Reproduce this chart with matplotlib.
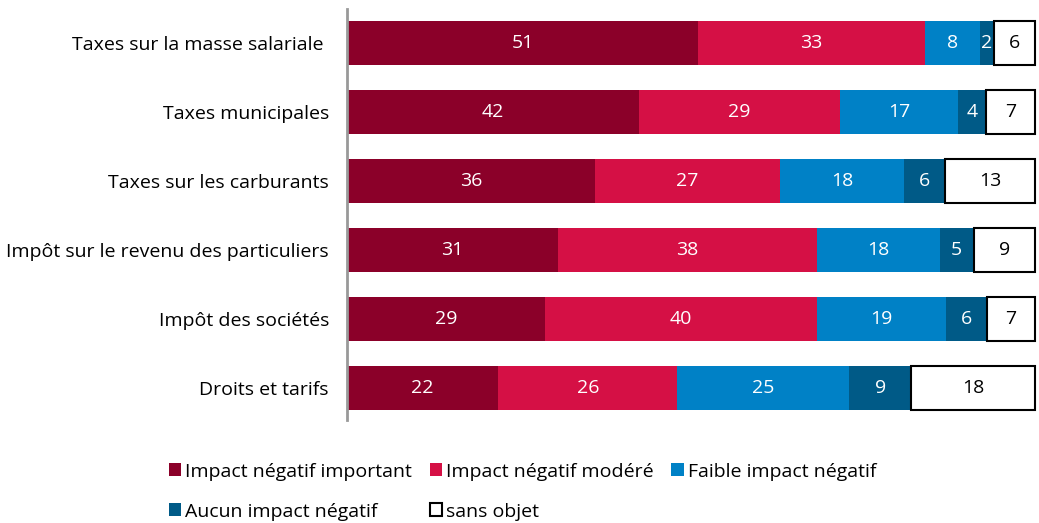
import numpy as np
import matplotlib
matplotlib.use("Agg")
import matplotlib.pyplot as plt
from matplotlib.patches import Patch

plt.rcParams.update({
    "font.family": ["Open Sans", "DejaVu Sans"],
    "font.size": 14,
})

categories = [
    "Taxes sur la masse salariale ",
    "Taxes municipales",
    "Taxes sur les carburants",
    "Impôt sur le revenu des particuliers",
    "Impôt des sociétés",
    "Droits et tarifs",
]
series_names = [
    "Impact négatif important",
    "Impact négatif modéré",
    "Faible impact négatif",
    "Aucun impact négatif",
    "sans objet",
]
important = [51, 42, 36, 31, 29, 22]
modere = [33, 29, 27, 38, 40, 26]
faible = [8, 17, 18, 18, 19, 25]
aucun = [2, 4, 6, 5, 6, 9]
sans_objet = [6, 7, 13, 9, 7, 18]

COLORS = ["#8B0029", "#D51045", "#0081C6", "#005A87", "#FFFFFF"]
EDGES = ["none", "none", "none", "none", "black"]
TEXT_COLORS = ["white", "white", "white", "white", "black"]

data = np.array([important, modere, faible, aucun, sans_objet], dtype=float)
totals = data.sum(axis=0)
shares = data / totals * 100  # each row fills the full width

fig = plt.figure(figsize=(10.39, 5.23), dpi=100)
ax = fig.add_axes([0.334, 0.197, 0.664, 0.786])

y = np.arange(len(categories))
left = np.zeros(len(categories))
for i, name in enumerate(series_names):
    w = shares[i]
    ax.barh(y, w, left=left, height=0.64, color=COLORS[i],
            edgecolor=EDGES[i], linewidth=1.5 if EDGES[i] != "none" else 0,
            label=name)
    for j in range(len(categories)):
        ax.text(left[j] + w[j] / 2, y[j], f"{int(data[i, j])}",
                ha="center", va="center", color=TEXT_COLORS[i], fontsize=14)
    left += w

ax.set_xlim(0, 100.3)
ax.set_ylim(5.465, -0.494)
ax.set_yticks(y)
ax.set_yticklabels(categories, fontsize=14)
ax.tick_params(axis="y", length=0, pad=13)
ax.set_xticks([])
for s in ["top", "right", "bottom"]:
    ax.spines[s].set_visible(False)
ax.spines["left"].set_color("#999999")
ax.spines["left"].set_linewidth(2)

# legend fills column by column, so reorder to read row by row
order = [0, 3, 1, 4, 2]
handles = [Patch(facecolor=COLORS[i], edgecolor="black" if i == 4 else COLORS[i],
                 linewidth=1.5 if i == 4 else 0) for i in order]
labels = [series_names[i] for i in order]
fig.legend(handles, labels, loc="upper left", bbox_to_anchor=(0.155, 0.13),
           ncol=3, frameon=False, fontsize=14, handlelength=0.65, handleheight=0.65,
           handletextpad=0.2, columnspacing=0.9, labelspacing=1.12, borderaxespad=0)

fig.savefig("out.png", dpi=100)
